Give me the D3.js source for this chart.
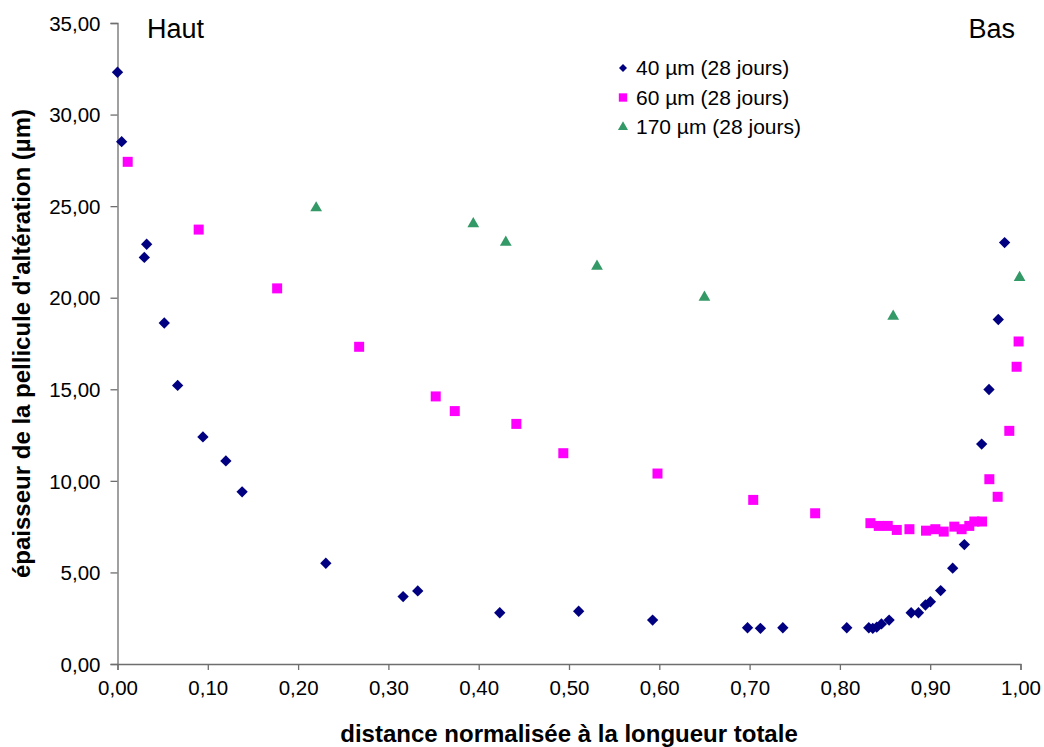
<!DOCTYPE html>
<html><head><meta charset="utf-8">
<script src="https://cdn.jsdelivr.net/npm/d3@7"></script>
<style>
html,body{margin:0;padding:0;background:#fff;}
svg text{font-family:"Liberation Sans",Arial,sans-serif;}
</style></head>
<body>
<svg id="chart" width="1044" height="747"></svg>
<script>
// ---- data ----
const series40_x = [0.000,0.0046,0.0297,0.0323,0.0518,0.0666,0.0946,0.120,0.138,0.2307,0.3163,0.3325,0.4233,0.5107,0.5926,0.6977,0.712,0.7368,0.8076,0.832,0.8364,0.8408,0.846,0.8545,0.8789,0.887,0.8947,0.9002,0.9116,0.9249,0.9378,0.957,0.9651,0.9754,0.9824];
const series40_y = [32.31,28.52,22.20,22.92,18.62,15.21,12.40,11.09,9.40,5.50,3.68,3.99,2.80,2.88,2.40,1.98,1.95,1.98,1.98,1.98,1.95,2.01,2.19,2.40,2.80,2.80,3.22,3.40,4.01,5.23,6.52,12.01,14.99,18.81,23.01];
const series60_x = [0.0113,0.0899,0.1768,0.2676,0.3524,0.3735,0.4417,0.4937,0.598,0.704,0.7726,0.8338,0.843,0.853,0.863,0.877,0.8954,0.9057,0.915,0.9267,0.9348,0.9433,0.9489,0.9574,0.9655,0.9747,0.9876,0.9957,0.9979];
const series60_y = [27.42,23.72,20.51,17.32,14.61,13.81,13.11,11.51,10.40,8.96,8.23,7.69,7.54,7.54,7.32,7.36,7.28,7.36,7.23,7.50,7.36,7.54,7.78,7.78,10.09,9.13,12.73,16.23,17.61];
const series170_x = [0.220,0.394,0.430,0.531,0.650,0.859,0.999];
const series170_y = [24.90,24.03,23.02,21.71,20.02,18.98,21.10];
const seriesNames = ["40 µm (28 jours)","60 µm (28 jours)","170 µm (28 jours)"];
const xTicks = [0,0.1,0.2,0.3,0.4,0.5,0.6,0.7,0.8,0.9,1.0];
const yTicks = [0,5,10,15,20,25,30,35];

// ---- layout ----
const svg = d3.select("#chart");
const L = 117.5, R = 1020.5, T = 23, B = 664;
const x = d3.scaleLinear().domain([0,1]).range([L,R]);
const y = d3.scaleLinear().domain([0,35]).range([B,T]);
const fmt = d => d.toFixed(2).replace(".", ",");
const axisColor = "#6e6e6e";

// axes
const gx = svg.append("g").attr("transform",`translate(0,${B})`)
  .call(d3.axisBottom(x).tickValues(xTicks).tickFormat(fmt).tickSize(6).tickPadding(10));
const gy = svg.append("g").attr("transform",`translate(${L},0)`)
  .call(d3.axisLeft(y).tickValues(yTicks).tickFormat(fmt).tickSize(7).tickPadding(10));
[gx,gy].forEach(g=>{
  g.select(".domain").attr("stroke",axisColor).attr("stroke-width",1.3);
  g.selectAll(".tick line").attr("stroke",axisColor).attr("stroke-width",1.3);
  g.selectAll(".tick text").attr("fill","#000").style("font-size","20.5px")
    .style("font-family","'Liberation Sans',Arial,sans-serif");
});
gy.selectAll(".tick text").attr("dy","0.35em");
gx.selectAll(".tick text").attr("dy","0.71em").attr("y",16);

// axis titles
svg.append("text").attr("x",(L+R)/2).attr("y",742).attr("text-anchor","middle")
  .style("font-size","24px").style("font-weight","bold").text("distance normalisée à la longueur totale");
svg.append("text").attr("transform",`translate(30,${(T+B)/2}) rotate(-90)`).attr("text-anchor","middle")
  .style("font-size","24px").style("font-weight","bold").text("épaisseur de la pellicule d'altération (µm)");

// corner labels
svg.append("text").attr("x",147).attr("y",38).style("font-size","27px").text("Haut");
svg.append("text").attr("x",1015).attr("y",38).attr("text-anchor","end").style("font-size","27px").text("Bas");

// markers
const diamond = d3.symbol().type(d3.symbolSquare).size(64);
const square = d3.symbol().type(d3.symbolSquare).size(100);
const tri = d3.symbol().type(d3.symbolTriangle).size(60);

const d40 = series40_x.map((v,i)=>({x:v,y:series40_y[i]}));
const d60 = series60_x.map((v,i)=>({x:v,y:series60_y[i]}));
const d170 = series170_x.map((v,i)=>({x:v,y:series170_y[i]}));

svg.append("g").selectAll("path").data(d170).join("path")
  .attr("d",tri).attr("fill","#339966")
  .attr("transform",d=>`translate(${x(d.x)},${y(d.y)})`);
svg.append("g").selectAll("path").data(d60).join("path")
  .attr("d",square).attr("fill","#ff00ff")
  .attr("transform",d=>`translate(${x(d.x)},${y(d.y)})`);
svg.append("g").selectAll("path").data(d40).join("path")
  .attr("d",diamond).attr("fill","#000080")
  .attr("transform",d=>`translate(${x(d.x)},${y(d.y)}) rotate(45)`);

// legend
const leg = svg.append("g").attr("transform","translate(623,68)");
const legSyms = [
  {sym:d3.symbol().type(d3.symbolSquare).size(32), fill:"#000080", rot:45},
  {sym:d3.symbol().type(d3.symbolSquare).size(70), fill:"#ff00ff", rot:0},
  {sym:d3.symbol().type(d3.symbolTriangle).size(44), fill:"#339966", rot:0}
];
seriesNames.forEach((n,i)=>{
  const g = leg.append("g").attr("transform",`translate(0,${i*29.5})`);
  g.append("path").attr("d",legSyms[i].sym).attr("fill",legSyms[i].fill)
    .attr("transform",`rotate(${legSyms[i].rot})`);
  g.append("text").attr("x",13).attr("dy","0.35em").style("font-size","21px").text(n);
});
</script>
</body></html>
